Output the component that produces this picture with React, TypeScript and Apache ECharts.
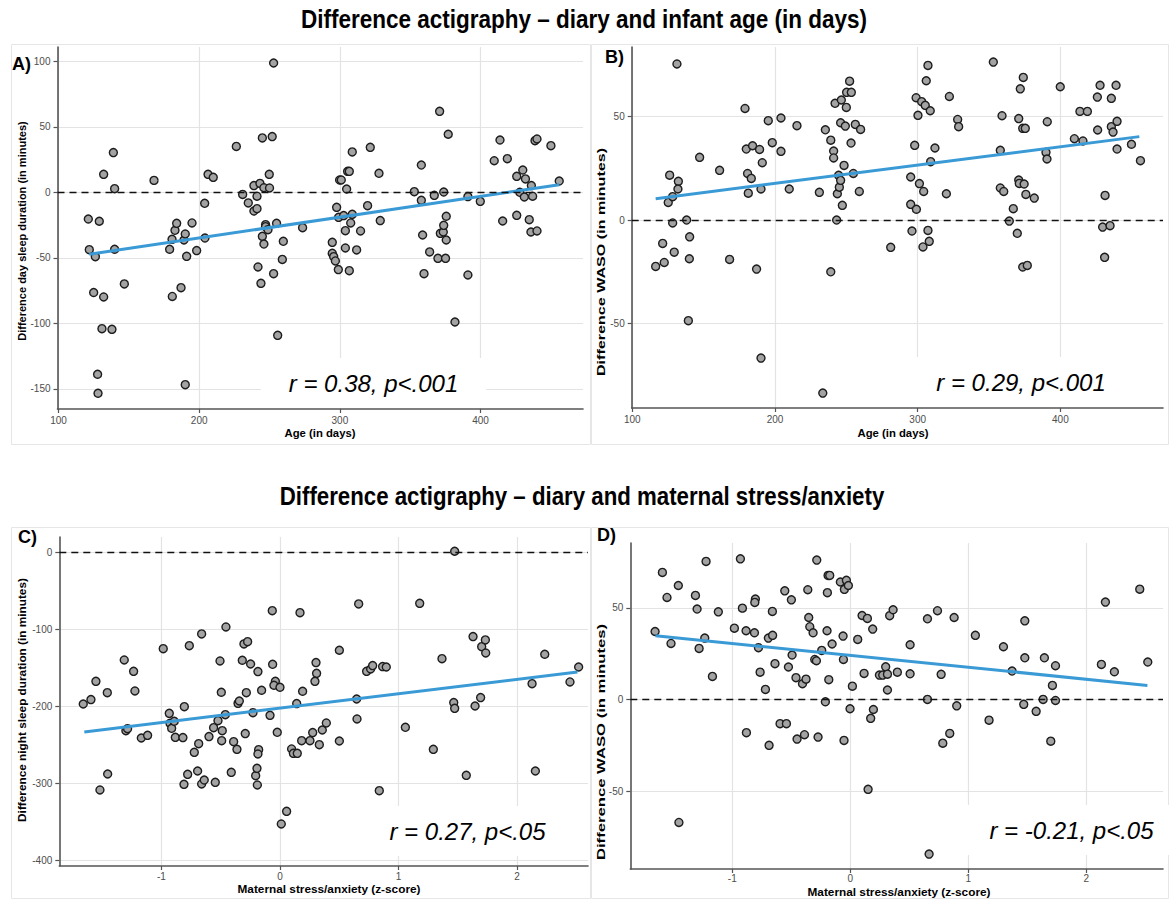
import React, { useEffect, useRef } from "react";
import * as echarts from "echarts";

// ---------- Panel A: age (days) vs difference day sleep duration ----------
const aAge = [121.2,121.9,126.2,129.0,125.0,132.1,132.1,130.9,138.0,127.8,128.1,139.0,139.9,139.9,146.8,167.9,179.0,180.9,180.7,182.8,184.0,189.2,190.1,187.1,191.1,190.1,194.9,198.2,203.9,204.1,206.3,210.0,226.4,230.9,234.9,238.9,241.1,243.2,238.9,241.1,244.9,251.9,252.9,246.0,249.8,250.0,247.2,247.2,244.9,246.0,248.9,241.8,243.9,252.9,255.0,259.8,259.1,255.8,
  273.5,294.6,294.6,295.6,296.8,298.9,297.7,299.1,299.8,301.0,304.8,302.7,303.9,303.9,305.5,306.7,308.8,308.8,307.7,306.7,311.9,314.7,319.7,321.6,327.8,328.7,352.9,357.9,357.9,358.8,359.8,363.8,367.1,370.9,369.7,371.4,373.5,373.8,373.8,375.6,375.6,375.1,377.0,381.8,391.0,391.0,399.8,409.7,413.8,419.0,415.7,425.7,425.7,430.0,431.9,427.9,431.1,436.1,437.0,434.6,435.8,440.1,438.7,440.1,450.0,455.9];
const aDiff = [-20.4,-43.8,-49.1,-22.1,-76.5,13.7,-79.9,-104.1,-104.6,-138.9,-153.4,30.3,2.8,-43.5,-69.9,9.1,-43.5,-79.5,-35.9,-29.0,-23.7,-36.4,-31.8,-72.8,-48.9,-146.8,-23.4,-44.5,-8.4,-34.9,13.7,11.4,35.0,-1.6,-8.1,5.1,-3.0,6.8,-14.3,-12.5,41.5,42.5,98.7,3.5,13.7,3.3,-24.7,-26.2,-33.6,-39.5,-28.5,-57.0,-69.5,-62.1,-23.7,-37.4,-51.2,-109.2,
  -27.0,-38.2,-46.6,-49.1,-52.4,-59.0,-11.5,-19.1,9.4,9.4,2.5,-17.8,-29.3,-42.5,16.0,16.0,30.8,-16.8,-23.4,-59.8,-44.0,-29.5,-10.2,34.3,14.5,-21.6,0.5,20.8,-6.1,-32.6,-62.1,-45.5,-2.3,61.8,-50.4,-31.3,-30.3,-25.2,0.2,-18.3,-36.4,-50.4,44.3,-99.0,-3.3,-63.1,-6.9,24.1,39.9,25.7,-21.9,12.2,-17.6,17.0,10.2,0.0,-3.6,5.1,-3.0,-20.9,-30.3,-29.5,39.4,40.7,35.6,8.6];
const aFit = [[121.9, -47.3], [455.9, 5.8]];

// ---------- Panel B: age (days) vs difference WASO ----------
const bAge = [131.3,116.4,121.3,122.4,126.2,125.2,128.3,132.3,132.0,128.3,129.4,138.1,140.2,140.0,139.3,147.2,161.2,168.2,179.0,179.9,180.8,181.3,183.4,184.3,189.2,191.1,190.2,187.1,190.2,195.3,198.1,204.2,204.2,210.0,215.4,231.1,233.5,235.3,239.1,239.1,241.1,241.1,242.1,243.2,243.7,244.6,245.1,246.0,246.5,246.0,247.2,248.4,249.3,250.0,250.2,252.3,253.5,253.3,254.9,256.3,259.1,260.0,
  281.1,295.1,295.1,296.0,297.9,298.9,299.1,300.2,301.2,302.8,303.7,304.2,305.3,306.0,307.2,307.2,308.1,308.8,309.1,312.1,320.1,322.2,328.0,328.7,353.0,357.9,357.9,360.3,359.1,364.2,367.0,369.8,370.8,371.2,371.9,370.8,373.6,375.4,374.0,374.6,375.8,373.6,376.8,381.7,389.9,390.6,390.8,399.9,409.8,415.8,413.7,418.9,426.1,425.9,427.8,429.6,431.3,431.0,434.8,435.7,435.7,436.9,439.0,439.7,439.7,449.8,456.1];
const bDiff = [75.4,-22.4,-11.3,-20.5,21.7,8.5,11.3,18.7,15.0,-1.4,-15.5,0.0,-8.1,-18.7,-48.6,30.3,24.0,-19.0,53.9,34.3,22.5,13.0,20.1,35.9,34.1,27.7,15.0,-23.7,-66.7,48.0,37.4,49.3,33.2,15.0,45.6,13.4,-83.6,43.6,-25.0,38.6,33.3,30.0,56.4,0.0,12.7,21.6,15.9,47.0,58.0,19.2,7.1,26.4,45.4,54.4,61.7,67.1,61.7,37.2,22.5,46.2,13.8,43.8,
  -13.2,20.8,7.6,-5.3,36.1,59.1,5.2,50.6,17.6,57.2,-13.0,13.8,55.4,67.3,74.7,-5.0,-10.3,52.8,28.2,34.8,12.7,59.7,48.6,45.1,76.3,33.7,15.5,13.8,50.4,-0.5,5.5,-6.4,19.3,17.7,63.4,49.0,44.3,44.3,68.9,17.4,12.4,-22.7,-21.9,10.6,32.7,29.5,47.5,64.4,39.3,38.2,52.5,52.5,43.5,59.4,65.1,-3.4,11.9,-18.0,-2.7,58.8,45.1,42.5,65.1,47.7,34.3,36.6,28.7];
const bFit = [[116.4, 10.3], [455.3, 40.3]];

// ---------- Panel C: maternal stress/anxiety vs difference night sleep duration ----------
const cStress = [-1.660,-1.595,-1.553,-1.519,-1.457,-1.454,-1.314,-1.300,-1.286,-1.235,-1.224,-1.170,-1.117,-0.985,-0.934,-0.928,-0.914,-0.892,-0.883,-0.807,-0.819,-0.810,-0.779,-0.765,-0.723,-0.695,-0.686,-0.661,-0.661,-0.639,-0.599,-0.546,-0.560,-0.523,-0.506,-0.495,-0.487,-0.492,-0.461,-0.456,-0.411,-0.391,-0.363,-0.354,-0.343,-0.318,-0.304,-0.273,-0.293,-0.284,-0.248,-0.228,-0.205,-0.194,-0.191,-0.186,-0.180,-0.186,-0.155,-0.084,-0.065,-0.062,-0.039,-0.051,0.000,-0.023,0.011,0.056,
  0.169,0.191,0.141,0.098,0.113,0.146,0.183,0.253,0.276,0.304,0.309,0.295,0.332,0.357,0.391,0.501,0.501,0.647,0.650,0.664,0.731,0.765,0.782,0.838,0.866,0.897,1.058,1.179,1.294,1.367,1.466,1.474,1.474,1.572,1.629,1.646,1.693,1.702,1.733,1.736,2.127,2.155,2.234,2.447,2.520];
const cDiff = [-196.8,-191.1,-167.4,-308.3,-182.1,-287.6,-139.7,-231.4,-228.8,-154.4,-179.9,-240.9,-237.4,-125.0,-208.9,-221.8,-228.3,-219.2,-240.0,-200.2,-240.4,-301.0,-288.0,-121.1,-259.5,-283.7,-248.2,-105.9,-300.5,-295.4,-239.1,-298.4,-227.5,-218.4,-141.0,-181.6,-231.4,-244.3,-210.6,-96.9,-285.4,-245.6,-255.6,-195.9,-192.9,-140.1,-118.9,-115.9,-235.2,-182.1,-144.9,-208.0,-289.7,-280.2,-301.8,-154.8,-256.0,-261.6,-179.0,-211.5,-75.7,-145.3,-167.4,-172.5,-175.1,-233.5,-352.4,-336.0,
  -78.3,-180.3,-196.3,-255.1,-260.8,-260.8,-244.3,-244.3,-233.9,-143.1,-157.0,-167.4,-249.5,-230.5,-221.4,-127.1,-244.8,-190.3,-216.2,-67.0,-154.4,-151.4,-147.0,-309.2,-148.3,-148.8,-227.0,-66.2,-255.6,-138.0,-195.0,-202.4,1.3,-289.3,-109.4,-199.4,-188.5,-122.4,-113.7,-130.6,-170.4,-283.7,-132.3,-168.2,-148.8];
const cFit = [[-1.651, -233.1], [2.510, -155.2]];

// ---------- Panel D: maternal stress/anxiety vs difference WASO ----------
const dStress = [-1.654,-1.592,-1.553,-1.519,-1.457,-1.452,-1.312,-1.298,-1.281,-1.233,-1.222,-1.168,-1.118,-0.982,-0.931,-0.914,-0.883,-0.880,-0.812,-0.804,-0.809,-0.778,-0.764,-0.719,-0.688,-0.694,-0.660,-0.658,-0.638,-0.595,-0.541,-0.555,-0.524,-0.499,-0.493,-0.460,-0.451,-0.405,-0.388,-0.375,-0.360,-0.352,-0.343,-0.315,-0.301,-0.287,-0.284,-0.273,-0.242,-0.211,-0.194,-0.197,-0.188,-0.174,-0.182,-0.154,-0.084,-0.050,-0.033,-0.016,-0.061,-0.058,-0.053,-0.002,0.018,0.063,0.100,0.117,0.145,0.151,0.173,0.190,0.196,
  0.247,0.275,0.300,0.315,0.315,0.334,0.363,0.399,0.507,0.507,0.654,0.654,0.668,0.739,0.770,0.784,0.843,0.880,0.902,1.060,1.176,1.298,1.371,1.479,1.479,1.470,1.575,1.645,1.634,1.699,1.713,1.739,1.739,2.128,2.162,2.238,2.453,2.521];
const dDiff = [37.1,69.2,55.6,30.6,62.1,-66.7,56.7,49.3,27.9,33.5,75.2,12.7,47.8,38.9,76.6,49.8,37.5,-17.9,36.4,54.7,52.9,28.3,15.0,5.6,-24.8,33.5,48.0,35.0,19.6,-13.0,-13.0,59.2,17.8,54.3,24.3,12.0,-21.4,8.7,-19.0,11.2,59.8,44.7,39.7,36.4,21.9,21.2,75.9,-20.3,26.8,-1.1,58.2,37.5,67.6,67.6,10.9,30.3,64.0,60.0,64.9,62.1,34.6,21.9,-22.1,-4.9,7.4,32.8,45.8,14.3,44.2,-48.7,-10.1,38.4,-5.3,
  13.4,13.4,17.9,13.9,5.3,45.7,48.9,15.0,29.9,14.1,44.0,0.2,-83.9,48.4,13.8,-23.6,-18.3,44.7,-3.3,35.0,-11.1,28.8,15.6,42.9,22.8,-2.5,-6.3,22.8,0.2,-22.5,7.8,18.5,-0.4,19.2,53.1,15.2,60.1,20.5];
const dFit = [[-1.651, 34.8], [2.518, 7.8]];

// ---------- Axis ticks ----------
const ageTicks = [100, 200, 300, 400];
const aYTicks = [-150, -100, -50, 0, 50, 100];
const wasoTicks = [-50, 0, 50];
const stressTicks = [-1, 0, 1, 2];
const cYTicks = [-400, -300, -200, -100, 0];

const FONT = '"Liberation Sans", Arial, Helvetica, sans-serif';

function zip(xs: number[], ys: number[]) {
  return xs.map((x, i) => [x, ys[i]]);
}

function makeAxis(gridIndex: number, min: number, max: number, ticks: number[], isY: boolean, margin?: number) {
  return {
    type: "value",
    gridIndex,
    min,
    max,
    axisLine: { show: true, onZero: false, lineStyle: { color: "#555555", width: 1.6 } },
    axisTick: { show: true, length: 4, customValues: ticks, lineStyle: { color: "#555555", width: 1.2 } },
    axisLabel: {
      customValues: ticks,
      color: "#4d4d4d",
      fontSize: 10,
      fontFamily: FONT,
      margin: margin ?? (isY ? 7 : 6),
    },
    splitLine: { show: true, lineStyle: { color: "#e3e3e3", width: 1.2 } },
  };
}

function scatterSeries(i: number, data: number[][]) {
  return {
    type: "scatter",
    xAxisIndex: i,
    yAxisIndex: i,
    data,
    symbol: "circle",
    symbolSize: 8,
    itemStyle: { color: "#a3a3a3", borderColor: "#1c1c1c", borderWidth: 1.4, opacity: 1 },
    z: 3,
    silent: true,
    markLine: {
      silent: true,
      symbol: "none",
      label: { show: false },
      lineStyle: { type: [7, 5], color: "#111111", width: 1.3 },
      data: [{ yAxis: 0 }],
    },
  };
}

function fitSeries(i: number, data: number[][]) {
  return {
    type: "line",
    xAxisIndex: i,
    yAxisIndex: i,
    data,
    symbol: "none",
    silent: true,
    lineStyle: { color: "#3a9ad6", width: 3 },
    z: 4,
  };
}

function txt(text: string, x: number, y: number, size: number, opts: any = {}) {
  return {
    type: "text",
    x,
    y,
    z: opts.z ?? 10,
    rotation: opts.rotation ?? 0,
    scaleX: opts.scaleX ?? 1,
    scaleY: 1,
    silent: true,
    style: {
      text,
      fill: opts.fill ?? "#000000",
      fontSize: size,
      fontWeight: opts.weight ?? "bold",
      fontStyle: opts.italic ? "italic" : "normal",
      fontFamily: FONT,
      align: opts.align ?? "center",
      verticalAlign: "middle",
      backgroundColor: opts.bg,
      padding: opts.padding,
      lineHeight: opts.lineHeight,
    },
  };
}

function frame(x: number, y: number, w: number, h: number) {
  return {
    type: "rect",
    z: 0,
    silent: true,
    shape: { x: x + 0.5, y: y + 0.5, width: w, height: h },
    style: { fill: "none", stroke: "#e6e6e6", lineWidth: 1 },
  };
}

function annot(text: string, x: number, y: number) {
  return txt(text, x, y, 24, {
    weight: "normal",
    italic: true,
    bg: "#ffffff",
    padding: [12, 28],
    lineHeight: 26,
    z: 1,
  });
}

export default function App() {
  const ref = useRef<HTMLDivElement>(null);

  useEffect(() => {
    if (!ref.current) return;
    const chart = echarts.init(ref.current, undefined, { renderer: "svg" });
    const option = {
      animation: false,
      backgroundColor: "#ffffff",
      grid: [
        { left: 57.5, top: 47, width: 525.5, height: 362 },
        { left: 631.7, top: 47, width: 531.3, height: 361 },
        { left: 59.3, top: 537, width: 528.7, height: 329 },
        { left: 630.3, top: 543, width: 532.7, height: 326 },
      ],
      xAxis: [
        makeAxis(0, 99.3, 472.8, ageTicks, false),
        makeAxis(1, 99.6, 471.9, ageTicks, false),
        makeAxis(2, -1.862, 2.599, stressTicks, false, 5),
        makeAxis(3, -1.864, 2.65, stressTicks, false, 4),
      ],
      yAxis: [
        makeAxis(0, -165.4, 110.9, aYTicks, true),
        makeAxis(1, -90.8, 83.6, wasoTicks, true),
        makeAxis(2, -406.9, 19.8, cYTicks, true),
        makeAxis(3, -92.0, 85.2, wasoTicks, true),
      ],
      series: [
        scatterSeries(0, zip(aAge, aDiff)),
        scatterSeries(1, zip(bAge, bDiff)),
        scatterSeries(2, zip(cStress, cDiff)),
        scatterSeries(3, zip(dStress, dDiff)),
        fitSeries(0, aFit),
        fitSeries(1, bFit),
        fitSeries(2, cFit),
        fitSeries(3, dFit),
      ],
      graphic: [
        frame(11, 44, 579, 400),
        frame(591, 44, 577, 400),
        frame(11, 527, 579, 371),
        frame(591, 527, 577, 371),
        txt("Difference actigraphy – diary and infant age (in days)", 584, 19, 25, { scaleX: 0.9 }),
        txt("Difference actigraphy – diary and maternal stress/anxiety", 582, 497, 25, { scaleX: 0.89 }),
        txt("A)", 12, 64, 18, { align: "left" }),
        txt("B)", 605, 57, 18, { align: "left" }),
        txt("C)", 18, 537, 18, { align: "left" }),
        txt("D)", 597, 535, 18, { align: "left" }),
        txt("Age (in days)", 320, 433, 11.3),
        txt("Age (in days)", 893, 433, 11.3),
        txt("Maternal stress/anxiety (z-score)", 329, 889, 11.8),
        txt("Maternal stress/anxiety (z-score)", 899, 892, 11.8),
        txt("Difference day sleep duration (in minutes)", 22, 231, 11, { rotation: Math.PI / 2 }),
        txt("Difference WASO (in minutes)", 601, 262, 11.5, { rotation: Math.PI / 2, scaleX: 1.4 }),
        txt("Difference night sleep duration (in minutes)", 22, 700, 11.8, { rotation: Math.PI / 2 }),
        txt("Difference WASO (in minutes)", 601, 742, 11.5, { rotation: Math.PI / 2, scaleX: 1.45 }),
        annot("r = 0.38, p<.001", 373.5, 383),
        annot("r = 0.29, p<.001", 1021, 382),
        annot("r = 0.27, p<.05", 467.5, 831),
        annot("r = -0.21, p<.05", 1071.5, 830),
      ],
    };
    chart.setOption(option as any);
    return () => chart.dispose();
  }, []);

  return (
    <div
      ref={ref}
      style={{ position: "fixed", left: 0, top: 0, width: 1170, height: 899, background: "#fff" }}
    />
  );
}
